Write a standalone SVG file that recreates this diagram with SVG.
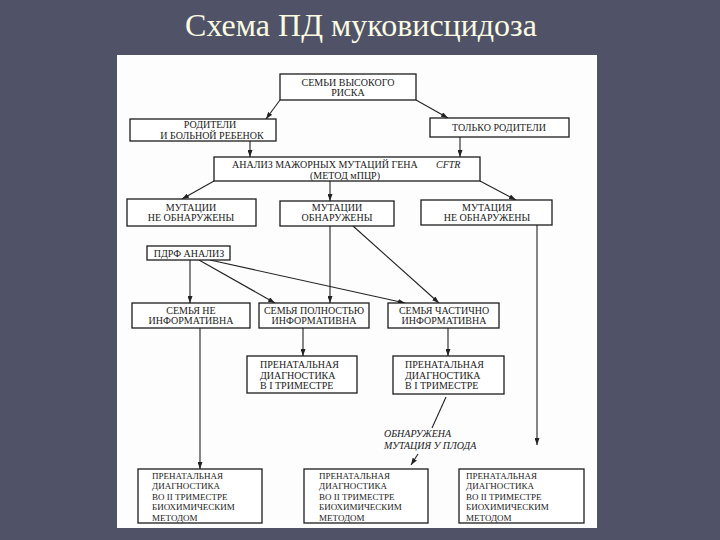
<svg xmlns="http://www.w3.org/2000/svg" width="720" height="540" viewBox="0 0 720 540">
<style>
.title{font-family:"Liberation Serif","Times New Roman",serif;font-size:32px;fill:#fbfbe2}
.node rect{fill:#ffffff;stroke:#1c1c1c;stroke-width:1.3}
.node text,.lbl{font-family:"Liberation Serif","Times New Roman",serif;font-size:10px;fill:#1a1a1a}
.node text.s{font-size:9px}
.c{text-anchor:middle}
.lbl{font-style:italic}
.conn line{stroke:#222222;stroke-width:1.1}
.ar{marker-end:url(#ah)}
</style>
<defs>
<marker id="ah" markerWidth="7" markerHeight="5" refX="7" refY="2.5" orient="auto" markerUnits="userSpaceOnUse">
<path d="M0,0 L7,2.5 L0,5 z" fill="#222222"/>
</marker>
</defs>
<rect x="0" y="0" width="720" height="540" fill="#505368"/>
<text class="title" x="361" y="36" text-anchor="middle">Схема ПД муковисцидоза</text>
<rect x="117" y="55" width="480" height="473" fill="#fdfdfd"/>

<g id="connectors" class="conn">
<line class="ar" x1="280" y1="100" x2="266" y2="119"/>
<line class="ar" x1="416" y1="100" x2="448" y2="118"/>
<line class="ar" x1="250" y1="141" x2="250" y2="157"/>
<line class="ar" x1="460" y1="137" x2="460" y2="157"/>
<line class="ar" x1="214" y1="181" x2="182" y2="199"/>
<line class="ar" x1="330" y1="181" x2="330" y2="201"/>
<line class="ar" x1="480" y1="181" x2="516" y2="200"/>
<line class="ar" x1="353" y1="226" x2="439" y2="303"/>
<line class="ar" x1="190" y1="260" x2="190" y2="303"/>
<line class="ar" x1="199" y1="260" x2="275" y2="303"/>
<line class="ar" x1="210" y1="260" x2="405" y2="303"/>
<line class="ar" x1="330" y1="226" x2="330" y2="303"/>
<line class="ar" x1="537" y1="225" x2="537" y2="445"/>
<line class="ar" x1="200" y1="328" x2="200" y2="469"/>
<line class="ar" x1="303" y1="328" x2="303" y2="356"/>
<line class="ar" x1="448" y1="328" x2="448" y2="356"/>
<line x1="446" y1="397" x2="432" y2="428"/>
<line class="ar" x1="418" y1="454" x2="411" y2="465"/>
</g>

<g id="n1" class="node"><rect x="280" y="74" width="136" height="26"/>
<text class="c" x="348" y="85.5">СЕМЬИ ВЫСОКОГО</text><text class="c" x="348" y="95.5">РИСКА</text></g>
<g id="n2" class="node"><rect x="130" y="119" width="146" height="22"/>
<text class="c" x="210" y="128">РОДИТЕЛИ</text><text class="c" x="212" y="138.5">И БОЛЬНОЙ РЕБЕНОК</text></g>
<g id="n3" class="node"><rect x="430" y="118" width="139" height="19"/>
<text class="c" x="499" y="130.5">ТОЛЬКО РОДИТЕЛИ</text></g>
<g id="n4" class="node"><rect x="214" y="157" width="266" height="24"/>
<text x="232" y="168">АНАЛИЗ МАЖОРНЫХ МУТАЦИЙ ГЕНА<tspan x="436" font-style="italic">CFTR</tspan></text>
<text class="c" x="345" y="178.5">(МЕТОД мПЦР)</text></g>
<g id="n5" class="node"><rect x="127" y="199" width="129" height="27"/>
<text class="c" x="191" y="210.5">МУТАЦИИ</text><text class="c" x="191" y="220.5">НЕ ОБНАРУЖЕНЫ</text></g>
<g id="n6" class="node"><rect x="280" y="201" width="114" height="25"/>
<text class="c" x="337" y="211">МУТАЦИИ</text><text class="c" x="337" y="221">ОБНАРУЖЕНЫ</text></g>
<g id="n7" class="node"><rect x="421" y="200" width="131" height="25"/>
<text class="c" x="487" y="211">МУТАЦИЯ</text><text class="c" x="487" y="221">НЕ ОБНАРУЖЕНЫ</text></g>
<g id="n8" class="node"><rect x="147" y="246" width="83" height="14"/>
<text class="c" x="189" y="256.5">ПДРФ АНАЛИЗ</text></g>
<g id="n9" class="node"><rect x="132" y="303" width="118" height="25"/>
<text class="c" x="191" y="313.5">СЕМЬЯ НЕ</text><text class="c" x="191" y="324">ИНФОРМАТИВНА</text></g>
<g id="n10" class="node"><rect x="259" y="303" width="110" height="25"/>
<text class="c" x="314" y="313.5">СЕМЬЯ ПОЛНОСТЬЮ</text><text class="c" x="314" y="324">ИНФОРМАТИВНА</text></g>
<g id="n11" class="node"><rect x="388" y="303" width="111" height="25"/>
<text class="c" x="444" y="313.5">СЕМЬЯ ЧАСТИЧНО</text><text class="c" x="444" y="324">ИНФОРМАТИВНА</text></g>
<g id="n12" class="node"><rect x="247" y="356" width="110" height="37"/>
<text x="260" y="368">ПРЕНАТАЛЬНАЯ</text><text x="260" y="378.5">ДИАГНОСТИКА</text><text x="260" y="389">В I ТРИМЕСТРЕ</text></g>
<g id="n13" class="node"><rect x="393" y="356" width="111" height="38"/>
<text x="405" y="368">ПРЕНАТАЛЬНАЯ</text><text x="405" y="378.5">ДИАГНОСТИКА</text><text x="405" y="389">В I ТРИМЕСТРЕ</text></g>
<text class="lbl" x="384" y="437">ОБНАРУЖЕНА</text>
<text class="lbl" x="384" y="448.5">МУТАЦИЯ У ПЛОДА</text>
<g id="n14" class="node"><rect x="138" y="469" width="124" height="54"/>
<text class="s" x="152" y="478.5">ПРЕНАТАЛЬНАЯ</text><text class="s" x="152" y="489">ДИАГНОСТИКА</text><text class="s" x="152" y="499.5">ВО II ТРИМЕСТРЕ</text><text class="s" x="152" y="510">БИОХИМИЧЕСКИМ</text><text class="s" x="152" y="520.5">МЕТОДОМ</text></g>
<g id="n15" class="node"><rect x="304" y="469" width="124" height="54"/>
<text class="s" x="319" y="478.5">ПРЕНАТАЛЬНАЯ</text><text class="s" x="319" y="489">ДИАГНОСТИКА</text><text class="s" x="319" y="499.5">ВО II ТРИМЕСТРЕ</text><text class="s" x="319" y="510">БИОХИМИЧЕСКИМ</text><text class="s" x="319" y="520.5">МЕТОДОМ</text></g>
<g id="n16" class="node"><rect x="459" y="469" width="125" height="54"/>
<text class="s" x="466" y="478.5">ПРЕНАТАЛЬНАЯ</text><text class="s" x="466" y="489">ДИАГНОСТИКА</text><text class="s" x="466" y="499.5">ВО II ТРИМЕСТРЕ</text><text class="s" x="466" y="510">БИОХИМИЧЕСКИМ</text><text class="s" x="466" y="520.5">МЕТОДОМ</text></g>
</svg>
